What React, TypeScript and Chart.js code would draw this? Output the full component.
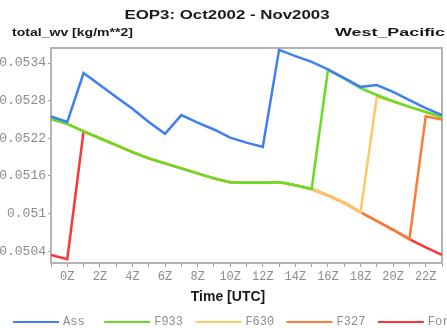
import React, { useEffect, useRef } from 'react';
import { Chart, registerables } from 'chart.js';

Chart.register(...registerables);

// ---- data ----
const hours = [-1, 0, 1, 2, 3, 4, 5, 6, 7, 8, 9, 10, 11, 12, 13, 14, 15, 16, 17, 18, 19, 20, 21, 22, 23];

const assValues = [
  0.05255, 0.05246, 0.05324, 0.05305, 0.05286, 0.05267, 0.05246, 0.05227, 0.05257, 0.05245,
  0.05234, 0.05221, 0.05213, 0.05206, 0.05361, 0.05351, 0.05342, 0.0533, 0.05316, 0.05302,
  0.05305, 0.05294, 0.05281, 0.05268, 0.05257,
];
const f933Values = [
  0.05251, 0.05243, 0.05231, 0.0522, 0.05209, 0.05198, 0.05188, 0.0518, 0.05172, 0.05164,
  0.05156, 0.0515, 0.05149, 0.05149, 0.0515, 0.05145, 0.05139, 0.05329, 0.05315, 0.053,
  0.05289, 0.05279, 0.0527, 0.05262, 0.05254,
];
const f630Values = [
  0.05251, 0.05243, 0.05231, 0.0522, 0.05209, 0.05198, 0.05188, 0.0518, 0.05172, 0.05164,
  0.05156, 0.0515, 0.05149, 0.05149, 0.0515, 0.05145, 0.05139, 0.05129, 0.05117, 0.05102,
  0.05286, 0.05278, 0.0527, 0.05262, 0.05254,
];
const f327Values = [
  0.05251, 0.05243, 0.05231, 0.0522, 0.05209, 0.05198, 0.05188, 0.0518, 0.05172, 0.05164,
  0.05156, 0.0515, 0.05149, 0.05149, 0.0515, 0.05145, 0.05139, 0.05129, 0.05117, 0.05102,
  0.05088, 0.05074, 0.05059, 0.05255, 0.0525,
];
const forecastValues = [
  0.05034, 0.05027, 0.05231, 0.0522, 0.05209, 0.05198, 0.05188, 0.0518, 0.05172, 0.05164,
  0.05156, 0.0515, 0.05149, 0.05149, 0.0515, 0.05145, 0.05139, 0.05129, 0.05117, 0.05102,
  0.05088, 0.05074, 0.05059, 0.05046, 0.05034,
];

const seriesLabels = ['Ass', 'F933', 'F630', 'F327', 'Forecast'];
const seriesValues = [assValues, f933Values, f630Values, f327Values, forecastValues];
const seriesColors = ['#3f7ef4', '#66dd22', '#ffc862', '#ff7a33', '#ff3535'];

const yTickValues = [0.0504, 0.051, 0.0516, 0.0522, 0.0528, 0.0534];
const xLabelHours = [0, 2, 4, 6, 8, 10, 12, 14, 16, 18, 20, 22];

const titleText = 'EOP3: Oct2002 - Nov2003';
const leftHeader = 'total_wv [kg/m**2]';
const rightHeader = 'West_Pacific';
const xAxisTitle = 'Time [UTC]';

const TICK_FONT = 'Liberation Mono';
const TICK_COLOR = '#8c8c8c';

function drawStretched(
  ctx: CanvasRenderingContext2D,
  text: string,
  x: number,
  y: number,
  align: 'left' | 'center' | 'right',
  targetWidth: number,
) {
  const w = ctx.measureText(text).width;
  const sx = targetWidth / w;
  const x0 = align === 'left' ? x : align === 'right' ? x - targetWidth : x - targetWidth / 2;
  ctx.save();
  ctx.translate(x0, y);
  ctx.scale(sx, 1);
  ctx.textAlign = 'left';
  ctx.fillText(text, 0, 0);
  ctx.restore();
}

const decorPlugin = {
  id: 'decor',
  beforeDatasetsDraw(chart: any) {
    const { ctx, chartArea } = chart;
    ctx.save();
    ctx.strokeStyle = '#b4b4b4';
    ctx.lineWidth = 2;
    ctx.strokeRect(chartArea.left, chartArea.top, chartArea.right - chartArea.left, chartArea.bottom - chartArea.top);
    ctx.restore();
  },
  afterDraw(chart: any) {
    const { ctx } = chart;
    ctx.save();
    ctx.fillStyle = '#1a1a1a';
    ctx.textBaseline = 'middle';
    ctx.font = 'bold 13px "Liberation Sans", Arial, sans-serif';
    drawStretched(ctx, titleText, 227, 15, 'center', 205);
    ctx.font = 'bold 11px "Liberation Sans", Arial, sans-serif';
    drawStretched(ctx, leftHeader, 12, 33, 'left', 121);
    drawStretched(ctx, rightHeader, 445, 33, 'right', 110);
    ctx.font = 'bold 14px "Liberation Sans", Arial, sans-serif';
    ctx.textAlign = 'center';
    ctx.fillText(xAxisTitle, 228, 297);

    // legend
    ctx.font = `12px "${TICK_FONT}", monospace`;
    ctx.textAlign = 'left';
    chart.data.datasets.forEach((ds: any, i: number) => {
      const x0 = 13 + i * 91.2;
      ctx.strokeStyle = ds.borderColor;
      ctx.lineWidth = 2;
      ctx.beginPath();
      ctx.moveTo(x0, 322);
      ctx.lineTo(x0 + 46, 322);
      ctx.stroke();
      ctx.fillStyle = TICK_COLOR;
      ctx.fillText(ds.label, x0 + 50, 322);
    });
    ctx.restore();
  },
};

export default function App() {
  const ref = useRef<HTMLCanvasElement>(null);

  useEffect(() => {
    const canvas = ref.current;
    if (!canvas) return;
    const chart = new Chart(canvas, {
      type: 'line',
      data: {
        datasets: seriesLabels.map((label, i) => ({
          label,
          data: hours.map((h, j) => ({ x: h, y: seriesValues[i][j] })),
          borderColor: seriesColors[i],
          backgroundColor: seriesColors[i],
          borderWidth: 2.5,
          pointRadius: 0,
          tension: 0,
          fill: false,
        })),
      },
      options: {
        responsive: false,
        animation: false,
        devicePixelRatio: 1,
        layout: { padding: { left: 0, right: 5, top: 48, bottom: 0 } },
        plugins: {
          legend: { display: false },
          title: { display: false },
          tooltip: { enabled: false },
        },
        scales: {
          x: {
            type: 'linear',
            min: -1,
            max: 23,
            afterFit: (scale: any) => {
              scale.height = 65;
            },
            afterBuildTicks: (scale: any) => {
              scale.ticks = hours.map((h) => ({ value: h }));
            },
            border: { display: false },
            grid: { drawOnChartArea: false, drawTicks: true, tickLength: 4, color: '#a0a0a0', lineWidth: 1 },
            ticks: {
              autoSkip: false,
              maxRotation: 0,
              padding: 3,
              color: TICK_COLOR,
              font: { family: TICK_FONT, size: 12 },
              callback: (v: any) => (xLabelHours.includes(Number(v)) ? `${v}Z` : ''),
            },
          },
          y: {
            type: 'linear',
            min: 0.05021,
            max: 0.05364,
            afterFit: (scale: any) => {
              scale.width = 51;
            },
            afterBuildTicks: (scale: any) => {
              scale.ticks = yTickValues.map((v) => ({ value: v }));
            },
            border: { display: false },
            grid: { drawOnChartArea: false, drawTicks: true, tickLength: 3, color: '#a0a0a0', lineWidth: 1 },
            ticks: {
              padding: 2,
              color: TICK_COLOR,
              font: { family: TICK_FONT, size: 13 },
              callback: (v: any) => String(Number(Number(v).toFixed(4))),
            },
          },
        },
      },
      plugins: [decorPlugin],
    });
    return () => chart.destroy();
  }, []);

  return (
    <div style={{ position: 'absolute', left: 0, top: 0, width: 447, height: 328, background: '#fff' }}>
      <canvas ref={ref} width={447} height={328} style={{ display: 'block', width: 447, height: 328 }} />
    </div>
  );
}
